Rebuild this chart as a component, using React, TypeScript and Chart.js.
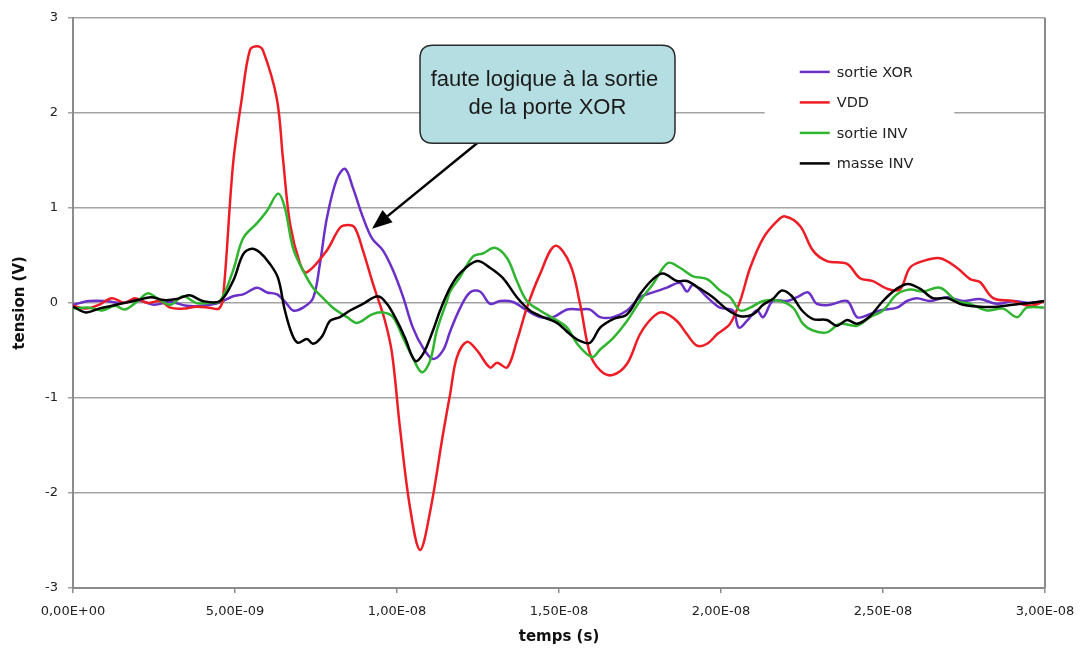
import React, { useEffect, useRef } from 'react';
import { Chart, registerables } from 'chart.js';

Chart.register(...registerables);

// ---- Data (time in ns, tension in V) ----
const xTickLabels = ['0,00E+00', '5,00E-09', '1,00E-08', '1,50E-08', '2,00E-08', '2,50E-08', '3,00E-08'];
const seriesNames = ['sortie XOR', 'VDD', 'sortie INV', 'masse INV'];
const seriesColors = ['#6a30c8', '#ee1c24', '#2fb52f', '#000000'];

const xorT = [0, 0.5, 1.0, 1.5, 2.0, 2.5, 3.0, 3.5, 4.0, 4.5, 4.94, 5.25, 5.68, 5.99, 6.3, 6.6, 6.79, 7.1, 7.41, 7.62, 7.84, 8.15, 8.4, 8.64, 8.95, 9.23, 9.57, 9.88, 10.19, 10.49, 10.8, 11.11, 11.42, 11.64, 11.94, 12.25, 12.56, 12.87, 13.18, 13.58, 14.01, 14.41, 14.81, 15.25, 15.65, 15.96, 16.27, 16.67, 17.1, 17.5, 17.9, 18.33, 18.73, 18.95, 19.14, 19.57, 19.97, 20.37, 20.55, 20.8, 21.11, 21.3, 21.6, 22.04, 22.35, 22.69, 22.96, 23.36, 23.89, 24.2, 24.51, 24.91, 25.43, 25.74, 26.05, 26.45, 26.98, 27.47, 27.99, 28.52, 29.01, 29.54, 30];
const xorV = [-0.02, 0.02, 0.02, 0.0, 0.03, -0.02, 0.01, -0.03, -0.03, 0.0, 0.07, 0.09, 0.16, 0.11, 0.09, -0.01, -0.08, -0.05, 0.05, 0.41, 0.9, 1.31, 1.41, 1.21, 0.9, 0.68, 0.55, 0.34, 0.06, -0.26, -0.47, -0.59, -0.5, -0.3, -0.06, 0.11, 0.12, -0.01, 0.02, 0.01, -0.08, -0.15, -0.15, -0.07, -0.07, -0.07, -0.15, -0.15, -0.08, 0.06, 0.11, 0.16, 0.21, 0.12, 0.19, 0.06, -0.05, -0.08, -0.26, -0.19, -0.08, -0.15, 0.02, 0.02, 0.06, 0.11, -0.01, -0.02, 0.02, -0.15, -0.13, -0.08, -0.05, 0.02, 0.05, 0.02, 0.06, 0.02, 0.04, -0.01, 0.02, 0.0, 0.02];

const vddT = [0, 0.4, 0.8, 1.2, 1.6, 1.9, 2.3, 2.7, 3.0, 3.4, 3.8, 4.2, 4.5, 4.63, 4.94, 5.21, 5.46, 5.68, 5.86, 6.29, 6.48, 6.7, 7.01, 7.21, 7.83, 8.24, 8.49, 8.7, 8.95, 9.26, 9.63, 9.85, 10.09, 10.4, 10.71, 11.02, 11.42, 11.64, 11.85, 12.16, 12.47, 12.87, 13.09, 13.4, 13.7, 14.01, 14.41, 14.88, 15.34, 15.65, 15.96, 16.27, 16.64, 17.1, 17.5, 17.9, 18.21, 18.64, 18.95, 19.26, 19.57, 19.88, 20.28, 20.59, 20.9, 21.3, 21.73, 21.98, 22.44, 22.84, 23.27, 23.89, 24.29, 24.69, 25.12, 25.52, 25.83, 26.23, 26.76, 27.28, 27.69, 27.99, 28.4, 29.01, 29.54, 30];
const vddV = [-0.03, -0.06, -0.02, 0.05, 0.0, 0.05, 0.0, 0.02, -0.05, -0.06, -0.04, -0.05, -0.06, 0.05, 1.46, 2.15, 2.66, 2.7, 2.66, 2.15, 1.52, 0.83, 0.41, 0.32, 0.55, 0.79, 0.82, 0.79, 0.55, 0.2, -0.19, -0.54, -1.31, -2.15, -2.6, -2.2, -1.38, -0.96, -0.57, -0.41, -0.5, -0.68, -0.63, -0.68, -0.4, -0.05, 0.3, 0.6, 0.41, -0.01, -0.54, -0.71, -0.76, -0.64, -0.33, -0.15, -0.1, -0.19, -0.33, -0.45, -0.43, -0.33, -0.22, 0.02, 0.37, 0.68, 0.86, 0.91, 0.81, 0.55, 0.44, 0.41, 0.26, 0.23, 0.15, 0.14, 0.37, 0.44, 0.47, 0.37, 0.25, 0.22, 0.05, 0.02, -0.03, 0.02];

const invT = [0, 0.5, 0.9, 1.3, 1.6, 2.0, 2.3, 2.6, 3.0, 3.4, 3.8, 4.2, 4.54, 4.94, 5.25, 5.68, 5.99, 6.33, 6.54, 6.79, 7.1, 7.41, 7.72, 8.02, 8.46, 8.77, 9.23, 9.57, 9.88, 10.19, 10.49, 10.77, 11.02, 11.23, 11.54, 11.64, 11.94, 12.35, 12.65, 13.02, 13.4, 13.7, 14.01, 14.41, 14.81, 15.25, 15.56, 16.02, 16.27, 16.67, 17.1, 17.5, 17.9, 18.36, 18.73, 19.14, 19.57, 19.97, 20.28, 20.59, 20.9, 21.3, 21.82, 22.22, 22.53, 22.84, 23.27, 23.67, 24.2, 24.6, 25.0, 25.43, 25.83, 26.23, 26.76, 27.28, 27.69, 28.21, 28.7, 29.14, 29.44, 30];
const invV = [-0.06, -0.05, -0.08, -0.03, -0.07, 0.02, 0.1, 0.05, -0.02, 0.07, 0.0, 0.0, 0.02, 0.34, 0.68, 0.84, 0.97, 1.15, 1.0, 0.58, 0.34, 0.16, 0.05, -0.05, -0.15, -0.21, -0.12, -0.1, -0.15, -0.37, -0.58, -0.73, -0.61, -0.29, 0.02, 0.12, 0.27, 0.49, 0.52, 0.58, 0.47, 0.23, 0.02, -0.08, -0.16, -0.26, -0.43, -0.57, -0.49, -0.37, -0.19, 0.02, 0.2, 0.42, 0.37, 0.28, 0.25, 0.13, 0.06, -0.08, -0.05, 0.02, 0.02, -0.05, -0.22, -0.29, -0.31, -0.22, -0.24, -0.15, -0.08, 0.09, 0.14, 0.12, 0.16, 0.02, -0.01, -0.08, -0.06, -0.15, -0.05, -0.05];

const masseT = [0, 0.4, 0.8, 1.2, 1.6, 2.0, 2.4, 2.8, 3.2, 3.6, 4.0, 4.54, 4.94, 5.25, 5.52, 5.77, 6.08, 6.33, 6.54, 6.76, 6.94, 7.22, 7.41, 7.69, 7.93, 8.24, 8.55, 8.95, 9.41, 9.69, 10.0, 10.25, 10.56, 10.8, 11.11, 11.33, 11.64, 11.94, 12.47, 12.87, 13.27, 13.7, 14.1, 14.51, 14.94, 15.34, 15.65, 15.96, 16.27, 16.67, 17.1, 17.5, 17.9, 18.21, 18.64, 18.95, 19.35, 19.75, 20.19, 20.59, 20.99, 21.3, 21.6, 21.88, 22.19, 22.5, 22.84, 23.27, 23.58, 23.89, 24.2, 24.6, 25.0, 25.43, 25.77, 26.14, 26.54, 26.98, 27.47, 27.99, 28.52, 29.01, 29.54, 30];
const masseV = [-0.04, -0.1, -0.06, -0.03, 0.0, 0.03, 0.06, 0.03, 0.04, 0.08, 0.02, 0.02, 0.23, 0.51, 0.57, 0.53, 0.41, 0.26, -0.08, -0.33, -0.42, -0.38, -0.43, -0.35, -0.19, -0.15, -0.08, -0.01, 0.07, -0.01, -0.19, -0.37, -0.61, -0.54, -0.29, -0.08, 0.16, 0.31, 0.44, 0.37, 0.26, 0.06, -0.08, -0.15, -0.21, -0.33, -0.4, -0.42, -0.26, -0.17, -0.12, 0.09, 0.25, 0.31, 0.23, 0.23, 0.15, 0.06, -0.07, -0.14, -0.12, -0.02, 0.04, 0.13, 0.07, -0.08, -0.17, -0.18, -0.24, -0.18, -0.22, -0.14, 0.02, 0.15, 0.2, 0.15, 0.05, 0.05, -0.02, -0.04, -0.04, -0.02, 0.0, 0.02];

// Callout (in data units: ns, V)
const calloutText = ['faute logique à la sortie', 'de la porte XOR'];
const calloutBox = { t0: 10.71, t1: 18.58, v0: 2.71, v1: 1.68 };
const calloutArrow = { fromT: 12.47, fromV: 1.68, toT: 9.23, toV: 0.78 };
// Legend box (data units)
const legendBox = { t0: 21.35, t1: 27.2, v0: 2.62, v1: 1.25 };

const seriesT = [xorT, vddT, invT, masseT];
const seriesV = [xorV, vddV, invV, masseV];

const FONT = 'DejaVu Sans';

function roundRect(ctx: CanvasRenderingContext2D, x: number, y: number, w: number, h: number, r: number) {
  ctx.beginPath();
  ctx.moveTo(x + r, y);
  ctx.lineTo(x + w - r, y);
  ctx.quadraticCurveTo(x + w, y, x + w, y + r);
  ctx.lineTo(x + w, y + h - r);
  ctx.quadraticCurveTo(x + w, y + h, x + w - r, y + h);
  ctx.lineTo(x + r, y + h);
  ctx.quadraticCurveTo(x, y + h, x, y + h - r);
  ctx.lineTo(x, y + r);
  ctx.quadraticCurveTo(x, y, x + r, y);
  ctx.closePath();
}

const overlayPlugin = {
  id: 'overlay',
  afterDatasetsDraw(chart: any) {
    const { ctx, chartArea } = chart;
    const xs = chart.scales.x;
    const ys = chart.scales.y;
    ctx.save();

    // right frame line
    ctx.strokeStyle = '#8c8c8c';
    ctx.lineWidth = 2;
    ctx.beginPath();
    ctx.moveTo(chartArea.right, chartArea.top);
    ctx.lineTo(chartArea.right, chartArea.bottom);
    ctx.stroke();

    // legend
    const lx0 = xs.getPixelForValue(legendBox.t0);
    const lx1 = xs.getPixelForValue(legendBox.t1);
    const ly0 = ys.getPixelForValue(legendBox.v0);
    const ly1 = ys.getPixelForValue(legendBox.v1);
    ctx.fillStyle = '#ffffff';
    ctx.fillRect(lx0, ly0, lx1 - lx0, ly1 - ly0);
    const rowH = 30.5;
    const firstRow = ly0 + 18;
    chart.data.datasets.forEach((ds: any, i: number) => {
      const yy = firstRow + i * rowH;
      ctx.strokeStyle = ds.borderColor;
      ctx.lineWidth = 2.5;
      ctx.beginPath();
      ctx.moveTo(lx0 + 35, yy);
      ctx.lineTo(lx0 + 65, yy);
      ctx.stroke();
      ctx.fillStyle = '#222';
      ctx.font = `14.5px "${FONT}"`;
      ctx.textAlign = 'left';
      ctx.textBaseline = 'middle';
      ctx.fillText(ds.label, lx0 + 72, yy + 1);
    });

    // callout arrow
    const ax0 = xs.getPixelForValue(calloutArrow.fromT);
    const ay0 = ys.getPixelForValue(calloutArrow.fromV);
    const ax1 = xs.getPixelForValue(calloutArrow.toT);
    const ay1 = ys.getPixelForValue(calloutArrow.toV);
    const ang = Math.atan2(ay1 - ay0, ax1 - ax0);
    const headLen = 20;
    const headHalf = 8;
    const bx = ax1 - headLen * Math.cos(ang);
    const by = ay1 - headLen * Math.sin(ang);
    ctx.strokeStyle = '#000';
    ctx.lineWidth = 2.5;
    ctx.beginPath();
    ctx.moveTo(ax0, ay0);
    ctx.lineTo(bx, by);
    ctx.stroke();
    ctx.fillStyle = '#000';
    ctx.beginPath();
    ctx.moveTo(ax1, ay1);
    ctx.lineTo(bx + headHalf * Math.sin(ang), by - headHalf * Math.cos(ang));
    ctx.lineTo(bx - headHalf * Math.sin(ang), by + headHalf * Math.cos(ang));
    ctx.closePath();
    ctx.fill();

    // callout box
    const cx0 = xs.getPixelForValue(calloutBox.t0);
    const cx1 = xs.getPixelForValue(calloutBox.t1);
    const cy0 = ys.getPixelForValue(calloutBox.v0);
    const cy1 = ys.getPixelForValue(calloutBox.v1);
    roundRect(ctx, cx0, cy0, cx1 - cx0, cy1 - cy0, 13);
    ctx.fillStyle = '#b5dee2';
    ctx.fill();
    ctx.strokeStyle = '#2a2a2a';
    ctx.lineWidth = 1.5;
    ctx.stroke();
    ctx.fillStyle = '#1a1a1a';
    ctx.font = '22px "Liberation Sans"';
    ctx.textAlign = 'center';
    ctx.textBaseline = 'middle';
    const ccx = (cx0 + cx1) / 2;
    const ccy = (cy0 + cy1) / 2;
    ctx.fillText(calloutText[0], ccx - 3, ccy - 14);
    ctx.fillText(calloutText[1], ccx, ccy + 14);

    ctx.restore();
  },
};

export default function App() {
  const canvasRef = useRef<HTMLCanvasElement | null>(null);

  useEffect(() => {
    document.body.style.margin = '0';
    const canvas = canvasRef.current;
    if (!canvas) return;
    Chart.defaults.font.family = FONT;

    const datasets = seriesNames.map((name, i) => ({
      label: name,
      data: seriesT[i].map((t, j) => ({ x: t, y: seriesV[i][j] })),
      borderColor: seriesColors[i],
      backgroundColor: seriesColors[i],
      borderWidth: 2.5,
      pointRadius: 0,
      tension: 0.35,
      fill: false,
      order: 4 - i,
    }));

    const tickFont = { family: FONT, size: 13 };
    const titleFont = { family: FONT, size: 15, weight: 'bold' as const };

    const chart = new Chart(canvas, {
      type: 'line',
      data: { datasets },
      options: {
        animation: false,
        responsive: false,
        devicePixelRatio: 1,
        layout: { padding: { top: 16, right: 42, left: 0, bottom: 0 } },
        plugins: {
          legend: { display: false },
          tooltip: { enabled: false },
        },
        scales: {
          x: {
            type: 'linear',
            min: 0,
            max: 30,
            ticks: {
              stepSize: 5,
              autoSkip: false,
              maxRotation: 0,
              padding: 11,
              color: '#222',
              font: tickFont,
              callback: (v: any) => xTickLabels[Math.round(Number(v) / 5)] ?? '',
            },
            grid: { drawOnChartArea: false, drawTicks: true, tickLength: 5, color: '#8c8c8c', lineWidth: 1.5 },
            border: { display: true, color: '#8c8c8c', width: 2 },
            title: { display: true, text: 'temps (s)', color: '#111', font: titleFont, padding: { top: 0, bottom: 4 } },
            afterFit: (s: any) => { s.height = 62; },
          },
          y: {
            type: 'linear',
            min: -3,
            max: 3,
            ticks: {
              stepSize: 1,
              padding: 10,
              color: '#222',
              font: tickFont,
              callback: (v: any) => String(v),
            },
            grid: { color: '#a3a3a3', lineWidth: 1.5, tickLength: 5 },
            border: { display: true, color: '#8c8c8c', width: 2 },
            title: { display: true, text: 'tension (V)', color: '#111', font: titleFont, padding: { top: 11, bottom: 0 } },
            afterFit: (s: any) => { s.width = 73; },
          },
        },
      },
      plugins: [overlayPlugin],
    } as any);

    return () => chart.destroy();
  }, []);

  return (
    <div style={{ width: 1087, height: 650, background: '#fff' }}>
      <canvas ref={canvasRef} width={1087} height={650} style={{ display: 'block', width: 1087, height: 650 }} />
    </div>
  );
}
